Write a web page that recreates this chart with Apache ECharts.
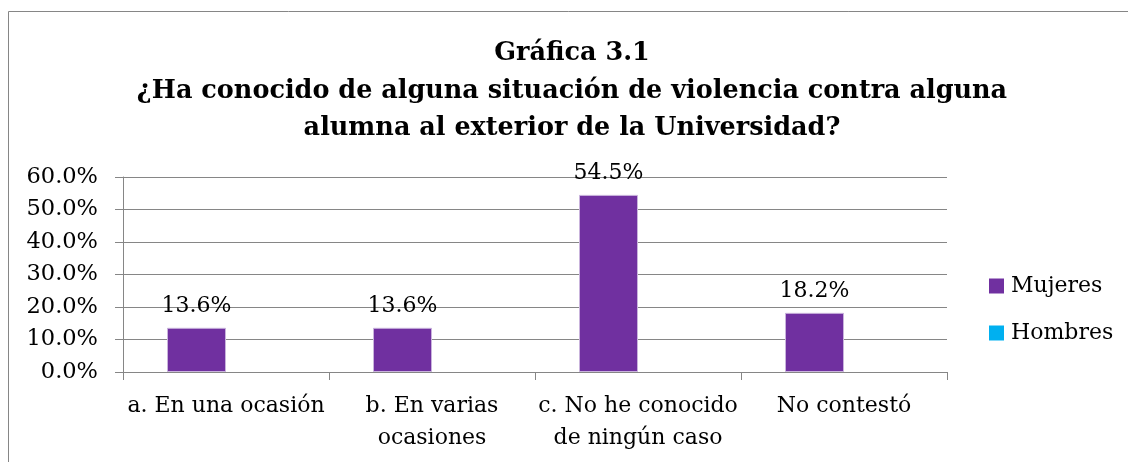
<!DOCTYPE html>
<html>
<head>
<meta charset="utf-8">
<script src="https://cdn.jsdelivr.net/npm/echarts@6/dist/echarts.min.js"></script>
<style>
  html, body { margin: 0; padding: 0; background: #fff; }
  #chart { width: 1128px; height: 462px; }
</style>
</head>
<body>
<div id="chart"></div>
<script>
// Respuestas (porcentaje) por categoría
const categories = [
  'a. En una ocasión',
  'b. En varias\nocasiones',
  'c. No he conocido\nde ningún caso',
  'No contestó'
];
const mujeres = [13.6, 13.6, 54.5, 18.2];
const hombres = [null, null, null, null];
const yTicks = [0, 10, 20, 30, 40, 50, 60];

const FONT = 'DejaVu Serif';
const GRID_COLOR = '#868686';

const chart = echarts.init(document.getElementById('chart'), null, { renderer: 'canvas' });

chart.setOption({
  animation: false,
  backgroundColor: '#fff',
  title: {
    text: 'Gráfica 3.1\n¿Ha conocido de alguna situación de violencia contra alguna\nalumna al exterior de la Universidad?',
    left: 572,
    textAlign: 'center',
    top: 35,
    padding: 0,
    textStyle: {
      fontFamily: FONT,
      fontWeight: 'bold',
      fontSize: 25.5,
      lineHeight: 37.5,
      color: '#000'
    }
  },
  graphic: [{
    type: 'rect',
    shape: { x: 8.5, y: 11.5, width: 1300, height: 800 },
    style: { fill: 'none', stroke: GRID_COLOR, lineWidth: 1 },
    silent: true,
    z: -1
  }],
  legend: {
    orient: 'vertical',
    left: 989,
    top: 275,
    padding: 0,
    itemWidth: 15,
    itemHeight: 15,
    itemGap: 25,
    icon: 'rect',
    itemStyle: { borderWidth: 0 },
    data: ['Mujeres', 'Hombres'],
    textStyle: { fontFamily: FONT, fontSize: 22, color: '#000', padding: [0, 0, 0, 2] }
  },
  grid: { left: 123, top: 177, right: 181, bottom: 90, containLabel: false },
  xAxis: {
    type: 'category',
    data: categories,
    axisLine: { lineStyle: { color: GRID_COLOR, width: 1 } },
    axisTick: { show: true, length: 8, alignWithLabel: false, lineStyle: { color: GRID_COLOR } },
    axisLabel: {
      interval: 0,
      margin: 18,
      fontFamily: FONT,
      fontSize: 22,
      lineHeight: 32,
      color: '#000'
    }
  },
  yAxis: {
    type: 'value',
    min: yTicks[0],
    max: yTicks[yTicks.length - 1],
    interval: 10,
    axisLine: { show: true, lineStyle: { color: GRID_COLOR, width: 1 } },
    axisTick: { show: true, length: 8, lineStyle: { color: GRID_COLOR } },
    splitLine: { show: true, lineStyle: { color: GRID_COLOR, width: 1 } },
    axisLabel: {
      margin: 25,
      fontFamily: FONT,
      fontSize: 22.5,
      color: '#000',
      formatter: v => v.toFixed(1) + '%'
    }
  },
  series: [
    {
      name: 'Mujeres',
      type: 'bar',
      data: mujeres,
      barWidth: 59,
      barGap: '0%',
      itemStyle: { color: '#7030A0', borderColor: '#c9b3dc', borderWidth: 1 },
      label: {
        show: true,
        position: 'top',
        distance: 11,
        fontFamily: FONT,
        fontSize: 22,
        color: '#000',
        formatter: p => p.value.toFixed(1) + '%'
      }
    },
    {
      name: 'Hombres',
      type: 'bar',
      data: hombres,
      barWidth: 59,
      itemStyle: { color: '#00B0F0' }
    }
  ]
});
</script>
</body>
</html>
